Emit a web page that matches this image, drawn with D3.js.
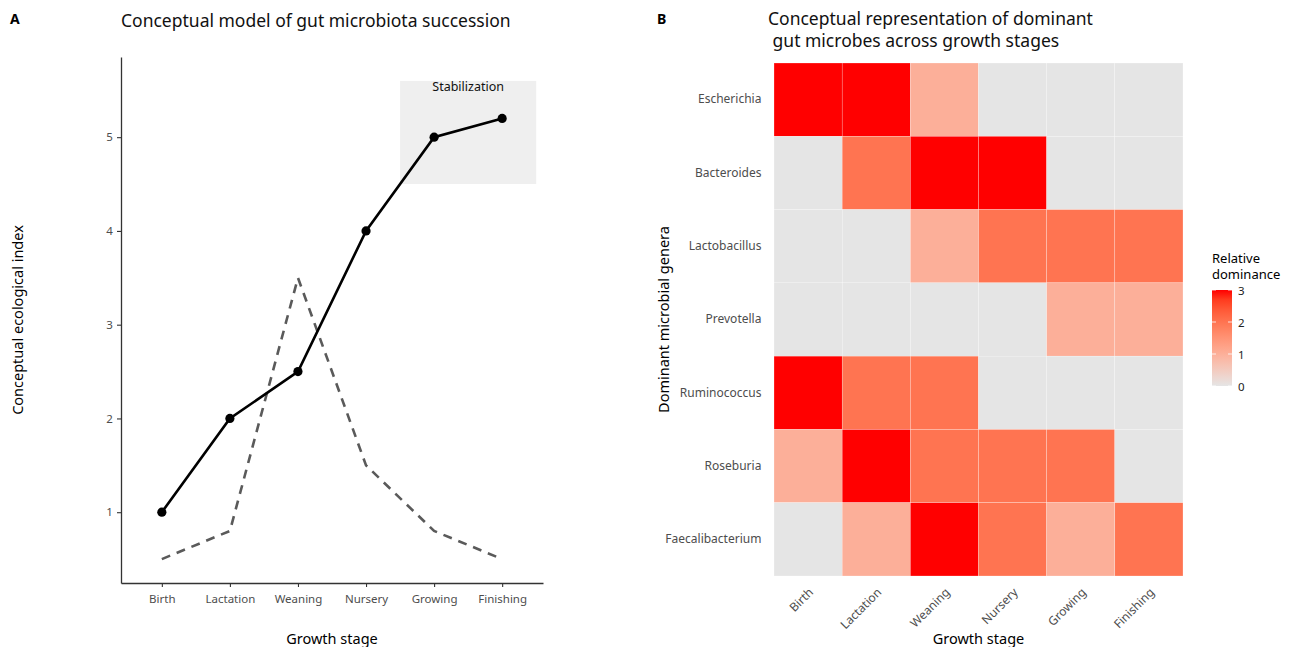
<!DOCTYPE html>
<html><head><meta charset="utf-8">
<script src="https://cdn.jsdelivr.net/npm/d3@7"></script>
<style>body{margin:0;background:#fff}text{font-family:"Noto Sans","Open Sans",sans-serif}</style>
</head><body>
<svg id="c" width="1298" height="647"></svg>
<script>
const stages = ["Birth","Lactation","Weaning","Nursery","Growing","Finishing"];
const solidValues = [1, 2, 2.5, 4, 5, 5.2];
const dashedValues = [0.5, 0.8, 3.5, 1.5, 0.8, 0.5];
const yTicksA = [1,2,3,4,5];
const stabRect = {x0: 4.5, x1: 6.5, y0: 4.5, y1: 5.6};
const genera = ["Escherichia","Bacteroides","Lactobacillus","Prevotella","Ruminococcus","Roseburia","Faecalibacterium"];
const dominance = [
  [3,3,1,0,0,0],
  [0,2,3,3,0,0],
  [0,0,1,2,2,2],
  [0,0,0,0,1,1],
  [3,2,2,0,0,0],
  [1,3,2,2,2,0],
  [0,1,3,2,1,2]
];
const legendTicks = [0,1,2,3];

const svg = d3.select("#c");
const tickCol = "#4d4d4d";

// ---------- Panel A ----------
const A = {l:121, r:543, t:57, b:583};
const xA = d3.scaleLinear().domain([0.4, 6.6]).range([A.l, A.r]);
const yA = d3.scaleLinear().domain([0.245, 5.855]).range([A.b, A.t]);
const gA = svg.append("g");

gA.append("rect").attr("x", xA(stabRect.x0)).attr("y", yA(stabRect.y1))
  .attr("width", xA(stabRect.x1)-xA(stabRect.x0)).attr("height", yA(stabRect.y0)-yA(stabRect.y1))
  .attr("fill", "#efefef");
gA.append("text").attr("x", xA(5.5)).attr("y", yA(5.6)+10).attr("text-anchor","middle")
  .attr("font-size", 12.5).attr("fill","#111").text("Stabilization");

const lineGen = d3.line().x((d,i)=>xA(i+1)).y(d=>yA(d));
gA.append("path").datum(dashedValues).attr("d", lineGen).attr("fill","none")
  .attr("stroke","#5a5a5a").attr("stroke-width",2.6).attr("stroke-dasharray","9,7");
gA.append("path").datum(solidValues).attr("d", lineGen).attr("fill","none")
  .attr("stroke","#000").attr("stroke-width",2.6);
gA.selectAll("circle").data(solidValues).join("circle")
  .attr("cx",(d,i)=>xA(i+1)).attr("cy",d=>yA(d)).attr("r",4.6).attr("fill","#000");

const axA_x = gA.append("g").attr("transform",`translate(0,${A.b})`)
  .call(d3.axisBottom(xA).tickValues([1,2,3,4,5,6]).tickFormat((d)=>stages[d-1]).tickSize(4).tickSizeOuter(0));
const axA_y = gA.append("g").attr("transform",`translate(${A.l},0)`)
  .call(d3.axisLeft(yA).tickValues(yTicksA).tickFormat(d3.format("d")).tickSize(4).tickSizeOuter(0));
[axA_x, axA_y].forEach(ax=>{
  ax.select(".domain").attr("stroke","#333").attr("stroke-width",1.3);
  ax.selectAll(".tick line").attr("stroke","#333").attr("stroke-width",1.1);
  ax.selectAll(".tick text").attr("fill",tickCol).attr("font-size",11.5).style("font-family",'"Noto Sans",sans-serif');
});
axA_x.selectAll(".tick text").attr("dy","1.1em");
axA_y.selectAll(".tick text").attr("dx","-0.1em");

svg.append("text").attr("x",121).attr("y",27).attr("font-size",17.5).attr("fill","#111")
  .text("Conceptual model of gut microbiota succession");
svg.append("text").attr("x",10).attr("y",24).attr("font-size",14).attr("font-weight","bold").text("A");
svg.append("text").attr("x",(A.l+A.r)/2).attr("y",644).attr("text-anchor","middle").attr("font-size",14.5).text("Growth stage");
svg.append("text").attr("transform",`translate(23,${(A.t+A.b)/2}) rotate(-90)`).attr("text-anchor","middle")
  .attr("font-size",14.5).text("Conceptual ecological index");

// ---------- Panel B ----------
const B = {l:774, r:1183, t:63, b:576};
const xB = d3.scaleBand().domain(stages).range([B.l, B.r]);
const yB = d3.scaleBand().domain(genera).range([B.t, B.b]);
const colB = d3.scaleLinear().domain([0,3]).range(["#e5e5e5","#ff0000"]).interpolate(d3.interpolateLab);

const cells = [];
genera.forEach((g,i)=>stages.forEach((s,j)=>cells.push({g, s, v: dominance[i][j]})));
svg.append("g").selectAll("rect").data(cells).join("rect")
  .attr("x",d=>xB(d.s)).attr("y",d=>yB(d.g)).attr("width",xB.bandwidth()).attr("height",yB.bandwidth())
  .attr("fill",d=>colB(d.v)).attr("stroke","#fff").attr("stroke-width",0.4).attr("stroke-opacity",0.6);

const axB_y = svg.append("g").attr("transform",`translate(${B.l},0)`).call(d3.axisLeft(yB).tickSize(0));
axB_y.select(".domain").remove();
axB_y.selectAll(".tick text").attr("fill",tickCol).attr("font-size",12).attr("dx","-0.8em").style("font-family",'"Noto Sans",sans-serif');

const axB_x = svg.append("g").attr("transform",`translate(0,${B.b})`).call(d3.axisBottom(xB).tickSize(0));
axB_x.select(".domain").remove();
axB_x.selectAll(".tick text").attr("fill",tickCol).attr("font-size",12).style("font-family",'"Noto Sans",sans-serif')
  .attr("text-anchor","end").attr("dy",null).attr("y",0)
  .attr("transform","translate(6,17) rotate(-45)");

svg.append("text").attr("x",657).attr("y",24).attr("font-size",14).attr("font-weight","bold").text("B");
svg.append("text").attr("x",768).attr("y",25).attr("font-size",17.5).attr("fill","#111")
  .text("Conceptual representation of dominant");
svg.append("text").attr("x",768).attr("y",47).attr("font-size",17.5).attr("fill","#111")
  .attr("xml:space","preserve").style("white-space","pre").text(" gut microbes across growth stages");
svg.append("text").attr("x",(B.l+B.r)/2).attr("y",644).attr("text-anchor","middle").attr("font-size",14.5).text("Growth stage");
svg.append("text").attr("transform",`translate(669,${(B.t+B.b)/2}) rotate(-90)`).attr("text-anchor","middle")
  .attr("font-size",14.5).text("Dominant microbial genera");

// legend
const L = {x:1212, y0:290, y1:386, w:20};
const defs = svg.append("defs");
const grad = defs.append("linearGradient").attr("id","lg").attr("x1",0).attr("y1",1).attr("x2",0).attr("y2",0);
d3.range(0,1.0001,0.1).forEach(t=>grad.append("stop").attr("offset",t).attr("stop-color",colB(t*3)));
svg.append("text").attr("x",L.x).attr("y",263).attr("font-size",13).text("Relative");
svg.append("text").attr("x",L.x).attr("y",279).attr("font-size",13).text("dominance");
svg.append("rect").attr("x",L.x).attr("y",L.y0).attr("width",L.w).attr("height",L.y1-L.y0).attr("fill","url(#lg)");
const yL = d3.scaleLinear().domain([0,3]).range([L.y1, L.y0]);
svg.append("g").selectAll("line").data(legendTicks).join("line")
  .attr("x1",L.x).attr("x2",L.x+4).attr("y1",d=>yL(d)).attr("y2",d=>yL(d)).attr("stroke","#fff").attr("stroke-width",0.8);
svg.append("g").selectAll("line").data(legendTicks).join("line")
  .attr("x1",L.x+L.w-4).attr("x2",L.x+L.w).attr("y1",d=>yL(d)).attr("y2",d=>yL(d)).attr("stroke","#fff").attr("stroke-width",0.8);
svg.append("g").selectAll("text").data(legendTicks).join("text")
  .attr("x",L.x+L.w+6).attr("y",d=>yL(d)+4.5).attr("font-size",11.5).attr("fill","#222").text(d=>d);
</script>
</body></html>
